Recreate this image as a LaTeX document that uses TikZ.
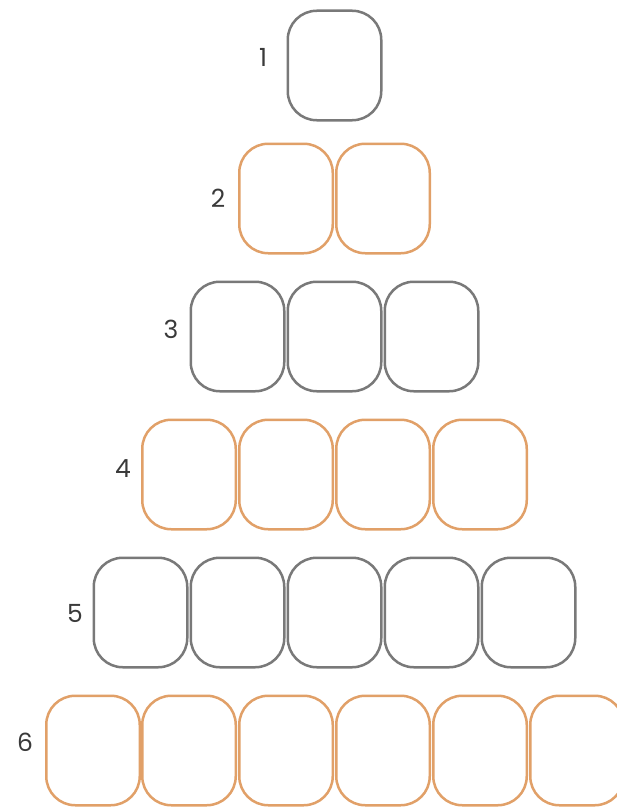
\documentclass[tikz,border=0pt]{standalone}
\usepackage{fontspec}
\setmainfont{Poppins}
\definecolor{boxgray}{HTML}{797979}
\definecolor{boxorange}{HTML}{E1A068}
\definecolor{labelgray}{HTML}{3A3A3A}
\tikzset{
  cell/.style={draw, rounded corners=29pt, line width=2.5pt, minimum width=93.5pt, minimum height=109.5pt, inner sep=0pt, outer sep=0pt},
  grayrow/.style={cell, boxgray},
  orangerow/.style={cell, boxorange},
  rowlabel/.style={text=labelgray, font=\fontsize{25}{25}\selectfont, inner sep=0pt}
}
\begin{document}
\begin{tikzpicture}[x=1pt,y=-1pt]
\useasboundingbox (0,0) rectangle (616,808);
\fill[white] (0,0) rectangle (616,808);
% row 1
\node[grayrow] (r1c1) at (334.5,65.5) {};
\node[rowlabel] (l1) at (263,57) {1};
% row 2
\foreach \x [count=\i] in {286,383}
  \node[orangerow] (r2c\i) at (\x,198.5) {};
\node[rowlabel] (l2) at (218,198) {2};
% row 3
\foreach \x [count=\i] in {237.5,334.5,431.5}
  \node[grayrow] (r3c\i) at (\x,336.5) {};
\node[rowlabel] (l3) at (171,329) {3};
% row 4
\foreach \x [count=\i] in {189,286,383,480}
  \node[orangerow] (r4c\i) at (\x,474.5) {};
\node[rowlabel] (l4) at (123,469) {4};
% row 5
\foreach \x [count=\i] in {140.5,237.5,334.5,431.5,528.5}
  \node[grayrow] (r5c\i) at (\x,612.5) {};
\node[rowlabel] (l5) at (75,613) {5};
% row 6
\foreach \x [count=\i] in {93,189,286,383,480,577}
  \node[orangerow] (r6c\i) at (\x,750.5) {};
\node[rowlabel] (l6) at (25,742) {6};
\end{tikzpicture}
\end{document}
